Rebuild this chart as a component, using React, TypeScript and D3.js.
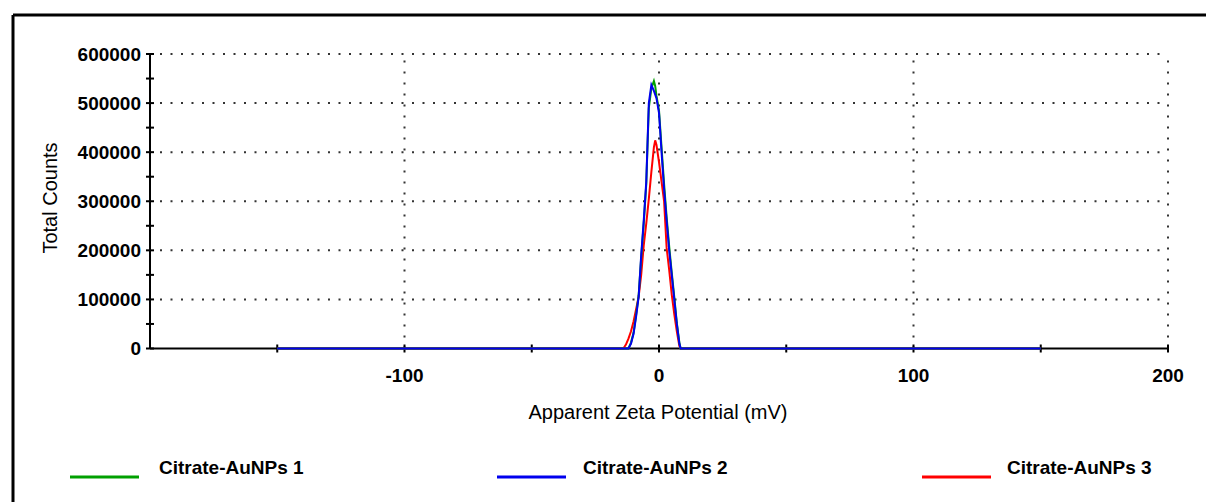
import React from "react";
import * as d3 from "d3";

const xTicks = [-100, 0, 100, 200];
const xMinorTicks = [-150, -50, 50, 150];
const yTicks = [0, 100000, 200000, 300000, 400000, 500000, 600000];
const yMinorTicks = [50000, 150000, 250000, 350000, 450000, 550000];

const seriesNames = ["Citrate-AuNPs 1", "Citrate-AuNPs 2", "Citrate-AuNPs 3"];
const seriesColors = ["#00a000", "#0000ee", "#ff0000"];

// Apparent Zeta Potential (mV) vs Total Counts
const zeta1 = [-150, -12, -11, -10, -9, -8, -7, -6, -5, -4.5, -4, -3, -2, -1.5, -1, 0, 1, 2, 3, 4, 5, 6, 7, 8, 8.5, 150];
const counts1 = [0, 0, 12000, 32000, 68000, 108000, 185000, 255000, 335000, 415000, 490000, 530000, 545000, 535000, 515000, 485000, 410000, 335000, 268000, 208000, 155000, 105000, 52000, 12000, 0, 0];

const zeta2 = [-150, -12, -11, -10, -9, -8, -7, -6, -5, -4.5, -4, -3, -2, -1, 0, 1, 2, 3, 4, 5, 6, 7, 8, 8.5, 150];
const counts2 = [0, 0, 10000, 30000, 65000, 105000, 190000, 260000, 340000, 420000, 500000, 537000, 525000, 510000, 480000, 400000, 325000, 260000, 200000, 150000, 100000, 50000, 10000, 0, 0];

const zeta3 = [-150, -14, -13, -12, -11, -10, -9, -8, -7, -6, -5, -4, -3, -2, -1.5, -1, 0, 1, 2, 3, 4, 5, 6, 7, 8, 8.5, 150];
const counts3 = [0, 0, 8000, 20000, 35000, 55000, 80000, 105000, 150000, 210000, 255000, 305000, 360000, 410000, 424000, 415000, 380000, 340000, 300000, 205000, 160000, 110000, 70000, 35000, 5000, 0, 0];

const seriesX = [zeta1, zeta2, zeta3];
const seriesY = [counts1, counts2, counts3];
const drawOrder = [2, 0, 1];

const FONT = "'Liberation Sans', Arial, sans-serif";

export default function App() {
  const x = d3.scaleLinear().domain([-200, 200]).range([150, 1168]);
  const y = d3.scaleLinear().domain([0, 600000]).range([348.5, 54]);
  const line = d3
    .line<[number, number]>()
    .x((d) => x(d[0]))
    .y((d) => y(d[1]));

  const x0 = x(-200);
  const x1 = x(200);
  const y0 = y(0);
  const y1 = y(600000);

  const legendX = [70, 497, 922];
  const legendTextX = [159, 583, 1007];

  return (
    <svg
      width={1206}
      height={502}
      style={{ position: "absolute", left: 0, top: 0, background: "#fff" }}
    >
      <rect x={0} y={0} width={1206} height={502} fill="#fff" />
      {/* frame */}
      <line x1={13} y1={15} x2={1206} y2={15} stroke="#000" strokeWidth={3} />
      <line x1={13} y1={15} x2={13} y2={502} stroke="#000" strokeWidth={3} />

      {/* grid */}
      {yTicks.slice(1).map((t) => (
        <line
          key={"gy" + t}
          x1={x0 + 10}
          x2={x1}
          y1={y(t)}
          y2={y(t)}
          stroke="#333"
          strokeWidth={2}
          strokeDasharray="2,8.5"
        />
      ))}
      {xTicks.map((t) => (
        <line
          key={"gx" + t}
          x1={x(t)}
          x2={x(t)}
          y1={y0}
          y2={y1}
          stroke="#333"
          strokeWidth={2}
          strokeDasharray="2,9"
        />
      ))}

      {/* axes */}
      <line x1={x0} x2={x0} y1={y1} y2={y0} stroke="#000" strokeWidth={2} />
      <line x1={x0} x2={x1} y1={y0} y2={y0} stroke="#000" strokeWidth={2} />
      {yTicks.concat(yMinorTicks).map((t) => (
        <line key={"ty" + t} x1={x0 - 4} x2={x0 + 4} y1={y(t)} y2={y(t)} stroke="#000" strokeWidth={2} />
      ))}
      {xTicks.concat(xMinorTicks).map((t) => (
        <line key={"tx" + t} x1={x(t)} x2={x(t)} y1={y0 - 4} y2={y0 + 4} stroke="#000" strokeWidth={2} />
      ))}

      {/* data */}
      {drawOrder.map((i) => (
        <path
          key={"s" + i}
          d={line(seriesX[i].map((v, k) => [v, seriesY[i][k]] as [number, number])) || ""}
          fill="none"
          stroke={seriesColors[i]}
          strokeWidth={2}
        />
      ))}

      {/* tick labels */}
      {yTicks.map((t) => (
        <text
          key={"ly" + t}
          x={141}
          y={y(t)}
          dy="0.35em"
          textAnchor="end"
          fontFamily={FONT}
          fontWeight="bold"
          fontSize={19}
          fill="#000"
        >
          {t}
        </text>
      ))}
      {xTicks.map((t) => (
        <text
          key={"lx" + t}
          x={x(t)}
          y={382}
          textAnchor="middle"
          fontFamily={FONT}
          fontWeight="bold"
          fontSize={19}
          fill="#000"
        >
          {t}
        </text>
      ))}

      {/* axis titles */}
      <text
        x={658}
        y={419}
        textAnchor="middle"
        fontFamily={FONT}
        fontSize={20}
        fill="#000"
      >
        Apparent Zeta Potential (mV)
      </text>
      <text
        transform="translate(57,198) rotate(-90)"
        textAnchor="middle"
        fontFamily={FONT}
        fontSize={20}
        fill="#000"
      >
        Total Counts
      </text>

      {/* legend */}
      {seriesNames.map((n, i) => (
        <g key={"lg" + i}>
          <line
            x1={legendX[i]}
            x2={legendX[i] + 69}
            y1={477}
            y2={477}
            stroke={seriesColors[i]}
            strokeWidth={3}
          />
          <text
            x={legendTextX[i]}
            y={474}
            fontFamily={FONT}
            fontWeight="bold"
            fontSize={19}
            fill="#000"
          >
            {n}
          </text>
        </g>
      ))}
    </svg>
  );
}
